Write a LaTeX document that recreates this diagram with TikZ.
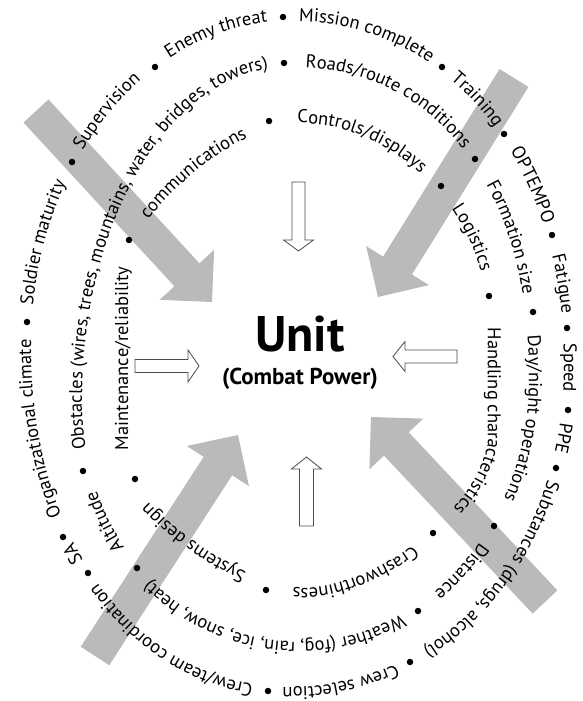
\documentclass[tikz,border=0pt]{standalone}
\usepackage{tikz}
\usepackage{fontspec}
\setmainfont{PT Sans}
\usetikzlibrary{calc,decorations.text}

\newcommand\ringfnt{\fontsize{18.5}{20}\selectfont}
\def\Rext{5}

% ring shape: four super-elliptic corners joined by straight sides (pixel coords, y down)
\newcommand\outerring{%
 \def\RxL{31}\def\RxR{564}\def\RyT{21}\def\RyB{687}%
 \def\RxTl{290}\def\RxTr{290}\def\RxBl{290}\def\RxBr{290}%
 \def\RyLt{345}\def\RyLb{345}\def\RyRt{365}\def\RyRb{365}%
 \def\RpTL{1}\def\RpTR{0.95}\def\RpBR{0.97}\def\RpBL{0.95}}
\newcommand\middlering{%
 \def\RxL{82}\def\RxR{529}\def\RyT{67}\def\RyB{642}%
 \def\RxTl{288}\def\RxTr{288}\def\RxBl{300}\def\RxBr{300}%
 \def\RyLt{400}\def\RyLb{400}\def\RyRt{380}\def\RyRb{380}%
 \def\RpTL{1}\def\RpTR{0.9}\def\RpBR{1}\def\RpBL{0.97}}
\newcommand\innerring{%
 \def\RxL{128}\def\RxR{488}\def\RyT{123}\def\RyB{588}%
 \def\RxTl{290}\def\RxTr{300}\def\RxBl{295}\def\RxBr{310}%
 \def\RyLt{260}\def\RyLb{470}\def\RyRt{320}\def\RyRb{440}%
 \def\RpTL{1.4}\def\RpTR{1.05}\def\RpBR{1.25}\def\RpBL{1.45}}

\pgfmathdeclarefunction{RX}{1}{%
 \begingroup
 \pgfmathparse{cos(#1)}\let\Rc\pgfmathresult
 \pgfmathparse{sin(#1)}\let\Rs\pgfmathresult
 \pgfmathparse{\Rc>=0}\let\Rright\pgfmathresult
 \pgfmathparse{\Rs<0}\let\Rtop\pgfmathresult
 \pgfmathparse{ifthenelse(\Rright,ifthenelse(\Rtop,\RxTr,\RxBr),ifthenelse(\Rtop,\RxTl,\RxBl))}\let\Rxc\pgfmathresult
 \pgfmathparse{ifthenelse(\Rright,\RxR-\Rxc,\Rxc-\RxL)}\let\Ra\pgfmathresult
 \pgfmathparse{ifthenelse(\Rright,ifthenelse(\Rtop,\RpTR,\RpBR),ifthenelse(\Rtop,\RpTL,\RpBL))}\let\Rp\pgfmathresult
 \pgfmathparse{\Rxc+ifthenelse(\Rright,1,-1)*\Ra*(abs(\Rc)+0.00001)^\Rp}%
 \pgfmathsmuggle\pgfmathresult
 \endgroup}
\pgfmathdeclarefunction{RY}{1}{%
 \begingroup
 \pgfmathparse{cos(#1)}\let\Rc\pgfmathresult
 \pgfmathparse{sin(#1)}\let\Rs\pgfmathresult
 \pgfmathparse{\Rc>=0}\let\Rright\pgfmathresult
 \pgfmathparse{\Rs<0}\let\Rtop\pgfmathresult
 \pgfmathparse{ifthenelse(\Rtop,ifthenelse(\Rright,\RyRt,\RyLt),ifthenelse(\Rright,\RyRb,\RyLb))}\let\Ryc\pgfmathresult
 \pgfmathparse{ifthenelse(\Rtop,\Ryc-\RyT,\RyB-\Ryc)}\let\Rb\pgfmathresult
 \pgfmathparse{ifthenelse(\Rright,ifthenelse(\Rtop,\RpTR,\RpBR),ifthenelse(\Rtop,\RpTL,\RpBL))}\let\Rp\pgfmathresult
 \pgfmathparse{\Ryc+ifthenelse(\Rtop,-1,1)*\Rb*(abs(\Rs)+0.00001)^\Rp}%
 \pgfmathsmuggle\pgfmathresult
 \endgroup}
\pgfmathdeclarefunction{RT}{2}{%
 \begingroup
 \pgfmathparse{#1>=(\RxTl+\RxTr+\RxBl+\RxBr)/4}\let\Rright\pgfmathresult
 \pgfmathparse{#2<ifthenelse(\Rright,(\RyRt+\RyRb)/2,(\RyLt+\RyLb)/2)}\let\Rtop\pgfmathresult
 \pgfmathparse{ifthenelse(\Rright,ifthenelse(\Rtop,\RxTr,\RxBr),ifthenelse(\Rtop,\RxTl,\RxBl))}\let\Rxc\pgfmathresult
 \pgfmathparse{ifthenelse(\Rtop,ifthenelse(\Rright,\RyRt,\RyLt),ifthenelse(\Rright,\RyRb,\RyLb))}\let\Ryc\pgfmathresult
 \pgfmathparse{ifthenelse(\Rright,\RxR-\Rxc,\Rxc-\RxL)}\let\Ra\pgfmathresult
 \pgfmathparse{ifthenelse(\Rtop,\Ryc-\RyT,\RyB-\Ryc)}\let\Rb\pgfmathresult
 \pgfmathparse{ifthenelse(\Rright,ifthenelse(\Rtop,\RpTR,\RpBR),ifthenelse(\Rtop,\RpTL,\RpBL))}\let\Rp\pgfmathresult
 \pgfmathparse{ifthenelse(\Rright,max(#1-\Rxc,0),max(\Rxc-#1,0))/\Ra}\let\Ru\pgfmathresult
 \pgfmathparse{ifthenelse(\Rtop,max(\Ryc-#2,0),max(#2-\Ryc,0))/\Rb}\let\Rv\pgfmathresult
 \pgfmathparse{atan2(ifthenelse(\Rtop,-1,1)*(\Rv+0.00001)^(1/\Rp),ifthenelse(\Rright,1,-1)*(\Ru+0.00001)^(1/\Rp))}%
 \pgfmathsmuggle\pgfmathresult
 \endgroup}

% one ring item: text centred between two dots (pixel coords)
\newcommand\ritem[5]{%
 \pgfmathsetmacro\tA{RT(#1,#2)}%
 \pgfmathsetmacro\tB{RT(#3,#4)}%
 \pgfmathsetmacro\tB{ifthenelse(\tB<\tA,\tB+360,\tB)}%
 \pgfmathsetmacro\tA{\tA-\Rext}%
 \pgfmathsetmacro\tB{\tB+\Rext}%
 \path[decorate,decoration={text along path,text align=center,text={|\ringfnt|#5}}]
   plot[domain=\tA:\tB,samples=100,variable=\t] ({RX(\t)},{-RY(\t)});%
}

\newcommand\bigarrow[2]{%
 \coordinate (bh) at ($(#2)!37pt!(#1)$);
 \fill[bigfill] ($(#1)!17pt!90:(#2)$) -- ($(bh)!17pt!90:(#2)$) -- ($(bh)!37pt!90:(#2)$) -- (#2)
   -- ($(bh)!37pt!-90:(#2)$) -- ($(bh)!17pt!-90:(#2)$) -- ($(#1)!17pt!-90:(#2)$) -- cycle;}

\begin{document}
\begin{tikzpicture}[x=1pt,y=1pt,
  dot/.style={circle,fill=black,inner sep=0pt,minimum size=6.5pt},
  hollow/.style={draw=black!70,line width=0.8pt,fill=white},
  bigfill/.style={fill=black!27}]
\useasboundingbox (0,0) rectangle (583,-701);

% large grey arrows
\coordinate (g1t) at (36,-111);  \coordinate (g1h) at (212,-302);
\coordinate (g2t) at (514,-78);  \coordinate (g2h) at (378,-297);
\coordinate (g3t) at (95,-656);  \coordinate (g3h) at (238,-435);
\coordinate (g4t) at (545,-602); \coordinate (g4h) at (371,-417);
\bigarrow{g1t}{g1h}
\bigarrow{g2t}{g2h}
\bigarrow{g3t}{g3h}
\bigarrow{g4t}{g4h}

% hollow arrows
\draw[hollow] (292,-182) -- (305,-182) -- (305,-240) -- (313.5,-240) -- (298.5,-251) -- (283.5,-240) -- (292,-240) -- cycle;
\draw[hollow] (299.5,-526) -- (313.5,-526) -- (313.5,-469) -- (321.5,-469) -- (306.5,-457) -- (291.5,-469) -- (299.5,-469) -- cycle;
\draw[hollow] (135,-359.5) -- (188,-359.5) -- (188,-350) -- (199,-366) -- (188,-382) -- (188,-372.5) -- (135,-372.5) -- cycle;
\draw[hollow] (457,-350) -- (405,-350) -- (405,-341.5) -- (393,-356.5) -- (405,-371.5) -- (405,-363) -- (457,-363) -- cycle;

% outer ring
\outerring
\ritem{283}{17}{442}{67}{Mission complete}
\ritem{442}{67}{504}{134}{Training}
\ritem{504}{134}{552}{235}{OPTEMPO}
\ritem{552}{235}{567}{328}{Fatigue}
\ritem{567}{328}{568}{410}{Speed}
\ritem{568}{410}{556}{468}{PPE}
\ritem{556}{468}{410}{662}{Substances (drugs, alcohol)}
\ritem{410}{662}{268}{691}{Crew selection}
\ritem{268}{691}{88}{573}{Crew/team coordination}
\ritem{88}{573}{63}{537}{SA}
\ritem{63}{537}{27}{322}{Organizational climate}
\ritem{27}{322}{72}{162}{Soldier maturity}
\ritem{72}{162}{155}{67}{Supervision}
\ritem{155}{67}{283}{17}{Enemy threat}

% middle ring
\middlering
\ritem{284}{63}{475}{159}{Roads/route conditions}
\ritem{475}{159}{533}{312}{Formation size}
\ritem{533}{312}{494}{526}{Day/night operations}
\ritem{494}{526}{418}{611}{Distance}
\ritem{418}{611}{137}{568}{Weather (fog, rain, ice, snow, heat)}
\ritem{137}{568}{83}{471}{Altitude}
\ritem{83}{471}{284}{63}{Obstacles (wires, trees, mountains, water, bridges, towers)}

% inner ring
\innerring
\ritem{269}{121}{441}{186}{Controls/displays}
\ritem{441}{186}{489}{296}{Logistics}
\ritem{489}{296}{433}{533}{Handling characteristics}
\ritem{433}{533}{266}{590}{Crashworthiness}
\ritem{266}{590}{135}{479}{Systems design}
\ritem{135}{479}{129}{240}{Maintenance/reliability}
\ritem{129}{240}{269}{121}{communications}

% dots
\foreach \n/\x/\y in {o1/283/17,o2/442/67,o3/504/134,o4/552/235,o5/567/328,o6/568/410,o7/556/468,
  o8/410/662,o9/268/691,o10/88/573,o11/63/537,o12/27/322,o13/72/162,o14/155/67,
  m1/284/63,m2/475/159,m3/533/312,m4/494/526,m5/418/611,m6/137/568,m7/83/471,
  i1/269/121,i2/441/186,i3/489/296,i4/433/533,i5/266/590,i6/135/479,i7/129/240}
  \node[dot] (\n) at (\x,-\y) {};

% centre
\node[font=\bfseries\fontsize{50}{50}\selectfont,anchor=base,inner sep=0pt] (unit) at (300,-351) {Unit};
\node[font=\bfseries\fontsize{23}{23}\selectfont,anchor=base,inner sep=0pt] (power) at (300,-384) {(Combat Power)};
\end{tikzpicture}
\end{document}
